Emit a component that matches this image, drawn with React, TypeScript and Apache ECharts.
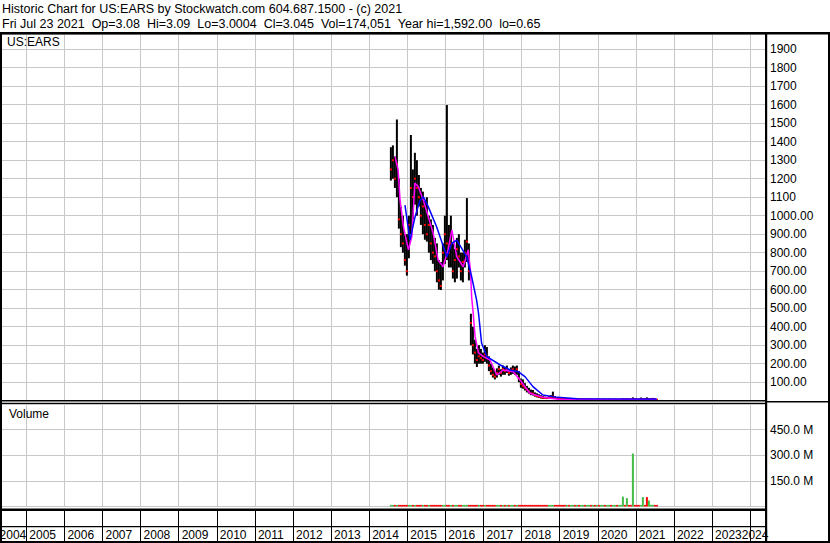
import React, { useEffect, useRef } from 'react';
import * as echarts from 'echarts';

const HEADER_LINE_1 = 'Historic Chart for US:EARS by Stockwatch.com 604.687.1500 - (c) 2021';
const HEADER_LINE_2 = 'Fri Jul 23 2021 \u00a0Op=3.08 \u00a0Hi=3.09 \u00a0Lo=3.0004 \u00a0Cl=3.045 \u00a0Vol=174,051 \u00a0Year hi=1,592.00 \u00a0lo=0.65';
const SYMBOL = 'US:EARS';
const VOLUME_TITLE = 'Volume';

// bar dates (decimal years): first bar and spacing
const FIRST_BAR_YEAR = 2014.57;
const BAR_STEP_YEARS = 0.0525;

const barHigh = [
  1370, 1380, 1320, 1520, 1200, 1050, 1000, 900, 900, 1000,
  1436, 1250, 1340, 1300, 1220, 1150, 1130, 1080, 1100, 1000,
  980, 950, 880, 850, 760, 750, 850, 1000, 1598, 950,
  1000, 850, 820, 880, 900, 800, 800, 870, 1095, 850,
  470, 400, 330, 280, 300, 280, 260, 300, 290, 240,
  200, 180, 160, 175, 190, 170, 190, 180, 190, 170,
  180, 190, 185, 190, 160, 120, 115, 95, 80, 70,
  60, 58, 45, 40, 35, 30, 25,
  22, 20, 25, 30, 49, 24, 20, 18, 16, 15,
  14, 13, 12, 12, 11, 11, 12, 11, 10, 11,
  10, 10, 11, 10, 10, 9, 10, 9, 9, 10,
  9, 9, 10, 9, 9, 10, 9, 9, 9, 11,
  10, 11, 10, 9, 18, 11, 10, 9, 17, 12,
  11, 18, 12, 11, 11, 10, 9,
];

const barLow = [
  1190, 1200, 1150, 1100, 930, 830, 800, 730, 676, 770,
  900, 980, 1060, 1000, 1050, 950, 900, 870, 860, 800,
  760, 740, 700, 640, 600, 598, 650, 740, 760, 720,
  720, 660, 640, 660, 720, 650, 640, 720, 750, 650,
  300, 250, 200, 182, 200, 200, 200, 210, 200, 160,
  140, 125, 115, 125, 140, 130, 140, 140, 150, 135,
  140, 145, 140, 140, 100, 70, 65, 55, 45, 38,
  30, 28, 22, 18, 15, 12, 10,
  10, 10, 12, 14, 15, 12, 10, 9, 8, 7,
  7, 6, 6, 6, 6, 5, 6, 5, 5, 5,
  5, 5, 6, 5, 5, 5, 5, 4, 4, 5,
  4, 4, 5, 4, 4, 5, 4, 4, 4, 5,
  5, 5, 5, 4, 5, 5, 5, 4, 5, 5,
  5, 5, 5, 5, 5, 5, 4,
];

const barClose = [
  1250, 1300, 1200, 1280, 980, 900, 850, 760, 700, 950,
  1150, 1100, 1200, 1150, 1100, 1000, 1050, 950, 900, 950,
  850, 800, 780, 700, 650, 620, 800, 900, 850, 800,
  850, 700, 760, 820, 780, 700, 750, 800, 860, 700,
  420, 300, 260, 220, 240, 230, 220, 250, 240, 190,
  160, 140, 130, 150, 170, 150, 170, 160, 170, 150,
  165, 170, 160, 170, 120, 90, 80, 70, 60, 50,
  40, 38, 30, 25, 22, 18, 16,
  15, 14, 18, 20, 22, 16, 14, 12, 11, 10,
  9, 9, 8, 8, 8, 7, 8, 7, 7, 8,
  7, 7, 8, 7, 7, 6, 7, 6, 6, 7,
  6, 6, 7, 6, 6, 7, 6, 6, 6, 8,
  7, 8, 7, 6, 9, 8, 7, 6, 8, 9,
  8, 7, 8, 9, 10, 8, 5,
];

// volume in millions of shares
const barVolumeM = [
  6, 5, 7, 5, 6, 4, 5, 6, 5, 7,
  6, 5, 4, 6, 5, 5, 6, 4, 5, 6,
  5, 4, 6, 5, 7, 6, 5, 8, 6, 5,
  4, 5, 6, 5, 4, 5, 6, 7, 5, 9,
  8, 6, 5, 6, 5, 4, 6, 5, 5, 4,
  5, 6, 4, 5, 5, 6, 4, 5, 6, 5,
  4, 5, 5, 6, 5, 4, 5, 6, 5, 4,
  5, 6, 5, 4, 5, 6, 5,
  5, 4, 6, 7, 8, 5, 4, 5, 4, 5,
  4, 5, 4, 4, 5, 4, 5, 4, 4, 5,
  4, 4, 5, 4, 4, 5, 4, 4, 5, 4,
  4, 5, 4, 4, 5, 4, 4, 5, 4,
  58, 5, 49, 4, 5, 310, 6, 7, 4, 5,
  55, 6, 55, 35, 10, 10, 4, 3,
];

// short moving average (magenta), [year, price]
const maShort = [
  [2014.68, 1319], [2014.76, 1247], [2014.81, 1085], [2014.9, 940], [2015.03, 815],
  [2015.12, 887], [2015.2, 1176], [2015.29, 1157], [2015.42, 1085], [2015.55, 995],
  [2015.68, 905], [2015.81, 760], [2015.94, 724], [2016.07, 815], [2016.17, 923],
  [2016.3, 778], [2016.47, 724], [2016.6, 815], [2016.66, 700], [2016.69, 560],
  [2016.73, 474], [2016.78, 346], [2016.87, 258], [2017.0, 238], [2017.17, 220],
  [2017.35, 139], [2017.52, 166], [2017.78, 157], [2017.96, 112], [2018.22, 40],
  [2018.57, 18], [2019.01, 7], [2020.06, 6], [2021.55, 5],
];

// long moving average (blue), [year, price]
const maLong = [
  [2014.94, 1057], [2015.07, 868], [2015.2, 990], [2015.33, 1080], [2015.42, 1103],
  [2015.55, 1049], [2015.77, 940], [2016.04, 778], [2016.17, 851], [2016.3, 868],
  [2016.56, 778], [2016.69, 670], [2016.82, 544], [2016.87, 474], [2016.95, 312],
  [2017.09, 238], [2017.44, 193], [2017.7, 166], [2017.91, 157], [2018.09, 130],
  [2018.3, 76], [2018.56, 31], [2018.93, 18], [2019.46, 11], [2021.55, 9],
];

const yearLabels = [
  2004, 2005, 2006, 2007, 2008, 2009, 2010, 2011, 2012, 2013,
  2014, 2015, 2016, 2017, 2018, 2019, 2020, 2021, 2022, 2023, 2024,
];

const FONT = '"Liberation Sans", Arial, sans-serif';
const X_MIN = 2004;
const X_MAX = 2024.39;
const LABEL_MIN = 2004.22;
const LABEL_MAX = 2023.7;
const GRID_LEFT = -11.8;
const GRID_RIGHT = 65;
const GRAY = '#c8c8c8';

function buildOption() {
  const years = barHigh.map((_, i) => FIRST_BAR_YEAR + i * BAR_STEP_YEARS);
  const hlData = years.map((y, i) => [y, barHigh[i], barLow[i]]);
  const closeData = years.map((y, i) => [y, barClose[i]]);
  const volData = years.map((y, i) => [y, barVolumeM[i], i === 0 || barClose[i] >= barClose[i - 1] ? 1 : 0]);

  const xBase = (gridIndex: number, lineColor: string, labels: boolean) => ({
    type: 'value',
    gridIndex,
    min: X_MIN,
    max: X_MAX,
    interval: 1,
    axisLine: { show: false },
    axisTick: { show: false },
    splitLine: { show: true, lineStyle: { color: lineColor, width: 1 } },
    axisLabel: labels
      ? {
          show: true,
          inside: true,
          margin: 8,
          verticalAlign: 'middle',
          align: 'left',
          padding: [0, 0, 0, 3],
          color: '#000',
          fontSize: 12,
          fontFamily: FONT,
          hideOverlap: false,
          showMinLabel: true,
          showMaxLabel: true,
          customValues: yearLabels.map((y) => Math.min(Math.max(y, LABEL_MIN), LABEL_MAX)),
          formatter: (v: number) => String(Math.round(v)),
        }
      : { show: false },
  });

  const gridBase = { left: GRID_LEFT, right: GRID_RIGHT, containLabel: false, outerBoundsMode: 'none' };

  const text = (t: string, x: number, y: number, size: number) => ({
    type: 'text',
    x,
    y,
    z: 100,
    silent: true,
    style: { text: t, fill: '#000', fontSize: size, fontFamily: FONT, verticalAlign: 'middle' },
  });
  const rect = (x: number, y: number, w: number, h: number) => ({
    type: 'rect',
    z: 100,
    silent: true,
    shape: { x, y, width: w, height: h },
    style: { fill: '#000' },
  });

  return {
    animation: false,
    backgroundColor: '#fff',
    textStyle: { fontFamily: FONT },
    grid: [
      { ...gridBase, top: 34, height: 366.7 },
      { ...gridBase, top: 404, height: 102.5 },
      { ...gridBase, top: 510, height: 33 },
    ],
    xAxis: [xBase(0, GRAY, false), xBase(1, GRAY, false), xBase(2, '#000', true)],
    yAxis: [
      {
        type: 'value',
        gridIndex: 0,
        position: 'right',
        min: 0,
        max: 1982,
        interval: 100,
        axisLine: { show: false },
        axisTick: { show: false },
        splitLine: { show: true, lineStyle: { color: GRAY, width: 1 } },
        axisLabel: {
          margin: 5,
          align: 'left',
          color: '#000',
          fontSize: 12,
          fontFamily: FONT,
          formatter: (v: number) => (v === 0 || v % 100 !== 0 ? '' : v >= 1100 ? String(v) : v.toFixed(2)),
        },
      },
      {
        type: 'value',
        gridIndex: 1,
        position: 'right',
        min: 0,
        max: 600,
        interval: 150,
        axisLine: { show: false },
        axisTick: { show: false },
        splitLine: { show: true, lineStyle: { color: GRAY, width: 1 } },
        axisLabel: {
          margin: 5,
          align: 'left',
          color: '#000',
          fontSize: 12,
          fontFamily: FONT,
          formatter: (v: number) => (v === 0 || v === 600 ? '' : v.toFixed(1) + ' M'),
        },
      },
      { type: 'value', gridIndex: 2, min: 0, max: 1, show: false },
    ],
    series: [
      {
        type: 'custom',
        xAxisIndex: 0,
        yAxisIndex: 0,
        data: hlData,
        z: 2,
        renderItem: (_p: any, api: any) => {
          const hi = api.coord([api.value(0), api.value(1)]);
          const lo = api.coord([api.value(0), api.value(2)]);
          return {
            type: 'rect',
            shape: { x: hi[0] - 1, y: hi[1], width: 2, height: Math.max(1, lo[1] - hi[1]) },
            style: { fill: '#000' },
          };
        },
      },
      {
        type: 'custom',
        xAxisIndex: 0,
        yAxisIndex: 0,
        data: closeData,
        z: 3,
        renderItem: (_p: any, api: any) => {
          const c = api.coord([api.value(0), api.value(1)]);
          return { type: 'rect', shape: { x: c[0] - 1, y: c[1] - 1, width: 2, height: 2 }, style: { fill: '#ff0000' } };
        },
      },
      {
        type: 'line',
        xAxisIndex: 0,
        yAxisIndex: 0,
        data: maShort,
        showSymbol: false,
        z: 4,
        lineStyle: { color: '#ff00ff', width: 1.5 },
      },
      {
        type: 'line',
        xAxisIndex: 0,
        yAxisIndex: 0,
        data: maLong,
        showSymbol: false,
        z: 5,
        lineStyle: { color: '#0000ff', width: 1.5 },
      },
      {
        type: 'custom',
        xAxisIndex: 1,
        yAxisIndex: 1,
        data: volData,
        z: 2,
        renderItem: (_p: any, api: any) => {
          const top = api.coord([api.value(0), api.value(1)]);
          const base = api.coord([api.value(0), 0]);
          const h = Math.max(1.6, base[1] - top[1]);
          return {
            type: 'rect',
            shape: { x: top[0] - 1, y: base[1] - h, width: 2, height: h },
            style: { fill: api.value(2) ? '#44bb44' : '#ff0000' },
          };
        },
      },
    ],
    graphic: {
      elements: [
        text(HEADER_LINE_1, 2, 9, 12.5),
        text(HEADER_LINE_2, 2, 24, 12.5),
        text(SYMBOL, 7, 42, 12),
        text(VOLUME_TITLE, 9, 414, 12),
        rect(0, 32, 830, 2.5),
        rect(0, 33, 2, 510),
        rect(765, 33, 2.2, 510),
        rect(828, 33, 2, 510),
        rect(0, 541, 830, 2),
        rect(0, 400, 765, 1.4),
        rect(0, 402.7, 765, 1.4),
        rect(767, 401, 63, 1.5),
        rect(0, 508.5, 765, 2.5),
        rect(0, 526, 765, 1.2),
      ],
    },
  };
}

export default function App() {
  const ref = useRef<HTMLDivElement>(null);
  useEffect(() => {
    if (!ref.current) return;
    const chart = echarts.init(ref.current, null, { renderer: 'svg', width: 830, height: 543 });
    chart.setOption(buildOption() as any);
    return () => chart.dispose();
  }, []);
  return (
    <div
      ref={ref}
      style={{ position: 'absolute', left: 0, top: 0, width: 830, height: 543, background: '#fff' }}
    />
  );
}
